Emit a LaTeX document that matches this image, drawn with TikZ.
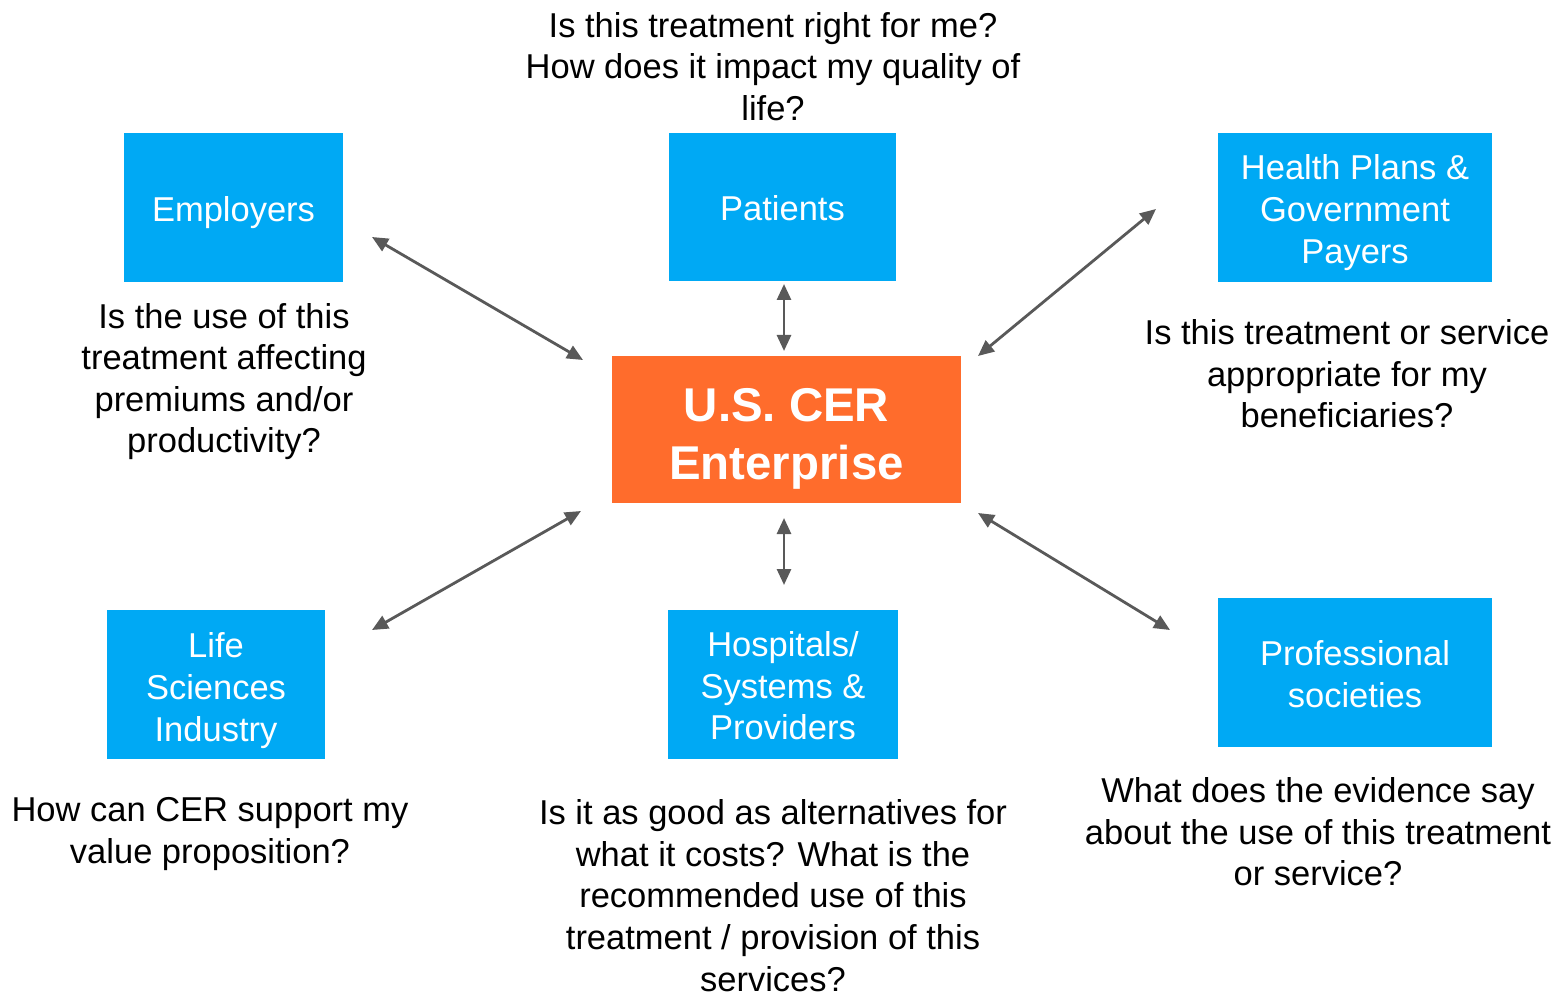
\documentclass[tikz,border=0pt]{standalone}
\usepackage{fontspec}
\setmainfont{Liberation Sans}
\usetikzlibrary{arrows.meta}
\definecolor{boxblue}{RGB}{0,169,244}
\definecolor{cerorange}{RGB}{255,108,44}
\definecolor{arrgray}{RGB}{89,89,89}
\begin{document}
\begin{tikzpicture}[x=0.5pt,y=-0.5pt,
  bluebox/.style={fill=boxblue, inner sep=0pt},
  boxtext/.style={text=white, align=center, inner sep=0pt,
    font=\fontsize{17.25pt}{20.8pt}\selectfont},
  question/.style={align=center, inner sep=0pt, text=black,
    font=\fontsize{17.25pt}{20.8pt}\selectfont},
  link/.style={draw=arrgray, line width=1.4pt,
    {Triangle[length=8pt,width=7pt]}-{Triangle[length=8pt,width=7pt]}}]
\useasboundingbox (0,0) rectangle (1568,994);
% boxes
\node[bluebox, minimum width=109.5pt, minimum height=74.5pt] (emp) at (233.5,207.5) {};
\node[bluebox, minimum width=113.5pt, minimum height=74pt] (pat) at (782.5,207) {};
\node[bluebox, minimum width=137pt, minimum height=74.5pt] (hp) at (1355,207.5) {};
\node[fill=cerorange, inner sep=0pt, minimum width=174.5pt, minimum height=73.5pt] (cer) at (786.5,429.5) {};
\node[bluebox, minimum width=109pt, minimum height=74.5pt] (life) at (216,684.5) {};
\node[bluebox, minimum width=115pt, minimum height=74.5pt] (hosp) at (783,684.5) {};
\node[bluebox, minimum width=137pt, minimum height=74.5pt] (prof) at (1355,672.5) {};
% box labels
\node[boxtext] (empt) at ([yshift=-2.5pt]emp.center) {Employers};
\node[boxtext] (patt) at ([yshift=-0.5pt]pat.center) {Patients};
\node[boxtext] (hpt) at ([yshift=-2.5pt]hp.center) {Health Plans \&\\Government\\Payers};
\node[text=white, align=center, inner sep=0pt,
  font=\fontsize{23.7pt}{28.7pt}\selectfont\bfseries] (cert) at ([yshift=-4.75pt]cer.center) {U.S. CER\\Enterprise};
\node[boxtext] (lifet) at ([yshift=-3pt]life.center) {Life\\Sciences\\Industry};
\node[boxtext] (hospt) at ([yshift=-0.75pt]hosp.center) {Hospitals/\\Systems \&\\Providers};
\node[boxtext] (proft) at ([yshift=-0.75pt]prof.center) {Professional\\societies};
% questions
\node[question] (qpat) at (773,66.5) {Is this treatment right for me?\\How does it impact my quality of\\life?};
\node[question] (qemp) at (224,381.5) {Is the use of this\\treatment affecting\\premiums and/or\\productivity?};
\node[question] (qhp) at (1347,374) {Is this treatment or service\\appropriate for my\\beneficiaries?};
\node[question] (qlife) at (210,834) {How can CER support my\\value proposition?};
\node[question] (qhosp) at (773,895.5) {Is it as good as alternatives for\\what it costs? What is the\\recommended use of this\\treatment / provision of this\\services?};
\node[question] (qprof) at (1318,832) {What does the evidence say\\about the use of this treatment\\or service?};
% arrow end points
\coordinate (e1) at (372,237); \coordinate (e2) at (583,360);
\coordinate (p1) at (784,284); \coordinate (p2) at (784,351);
\coordinate (h1) at (1156,209); \coordinate (h2) at (978,356);
\coordinate (l1) at (581,511); \coordinate (l2) at (372,630);
\coordinate (o1) at (784,518); \coordinate (o2) at (784,585);
\coordinate (r1) at (978,513); \coordinate (r2) at (1170,630);
\draw[link] (e1) -- (e2);
\draw[link] (p1) -- (p2);
\draw[link] (h1) -- (h2);
\draw[link] (l1) -- (l2);
\draw[link] (o1) -- (o2);
\draw[link] (r1) -- (r2);
\end{tikzpicture}
\end{document}
